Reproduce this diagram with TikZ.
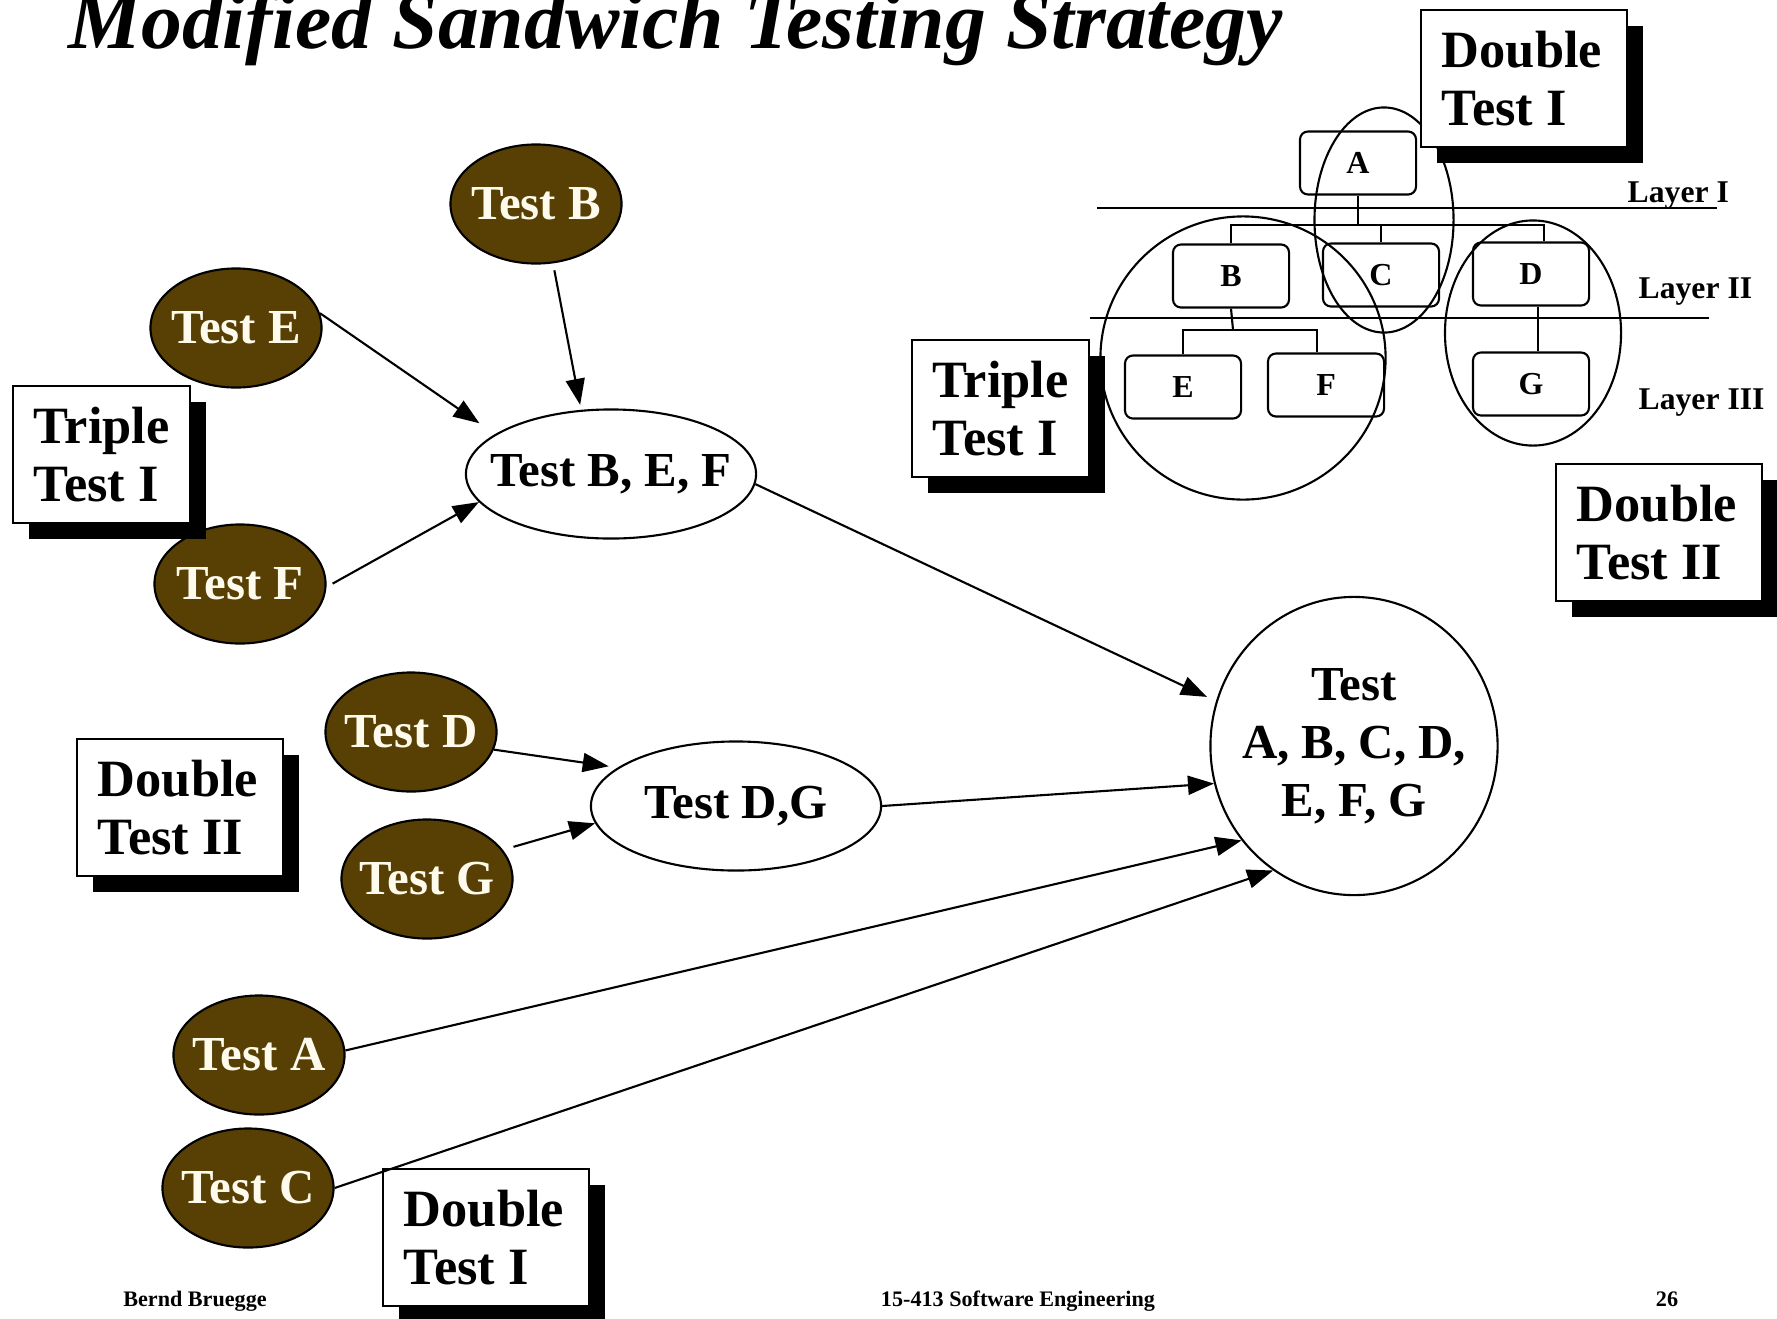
\documentclass[tikz,border=0pt]{standalone}
\usepackage{fontspec}
\setmainfont{Liberation Serif}
\usepackage{xcolor}
\usetikzlibrary{shapes.geometric, arrows.meta, shadows, calc}

\definecolor{testbrown}{RGB}{88,64,5}
\definecolor{testcream}{RGB}{255,251,236}

\begin{document}
\begin{tikzpicture}[
    x=0.01cm, y=-0.01cm,
    big/.style={font=\fontsize{13.9pt}{16.5pt}\selectfont\bfseries},
    unit/.style={ellipse, draw, line width=0.6pt, fill=testbrown, text=testcream, minimum width=1.71cm, minimum height=1.19cm, inner sep=0pt, inner xsep=-0.3cm, big},
    tst/.style={ellipse, draw, line width=0.6pt, fill=white, minimum width=2.9cm, minimum height=1.29cm, inner sep=0pt, inner xsep=-0.3cm, big},
    lbl/.style={draw, line width=0.5pt, fill=white, anchor=north west, align=flush left, inner xsep=0.21cm, text width=#1, minimum height=1.37cm,
        font=\fontsize{14.9pt}{16.4pt}\selectfont\bfseries,
        drop shadow={shadow xshift=0.16cm, shadow yshift=-0.16cm, fill=black, opacity=1}},
    mod/.style={draw, rounded corners=0.08cm, line width=0.6pt, minimum width=1.16cm, minimum height=0.63cm, font=\fontsize{9.1pt}{11pt}\selectfont\bfseries},
    grp/.style={ellipse, draw, line width=0.6pt, inner sep=0pt},
    tree/.style={line width=0.6pt},
    layer/.style={anchor=base west, inner sep=0pt, font=\fontsize{9pt}{11pt}\selectfont\bfseries},
    foot/.style={anchor=base, inner sep=0pt, font=\fontsize{6.3pt}{7.5pt}\selectfont\bfseries},
    msg/.style={-{Triangle[length=0.26cm, width=0.19cm]}, line width=0.6pt}
]
\useasboundingbox (0,0) rectangle (1777,1318);

\node[anchor=base west, inner sep=0pt, font=\fontsize{23.2pt}{27pt}\selectfont\bfseries\itshape] (title) at (68,48) {Modified Sandwich Testing Strategy};

% layered system, top right
\node[grp, minimum width=1.39cm, minimum height=2.25cm] (gAC) at (1384,220) {};
\node[grp, minimum width=2.85cm, minimum height=2.83cm] (gBEF) at (1243,358) {};
\node[grp, minimum width=1.76cm, minimum height=2.25cm] (gDG) at (1533,333) {};

\foreach \n/\x/\y in {A/1358/163, B/1231/276, C/1381/275, D/1531/274, E/1183/387, F/1326/385, G/1531/384}
  \node[mod] (m\n) at (\x,\y) {\n};

\coordinate (busA) at (1358,225);
\coordinate (busB) at (1233,330);
\draw[tree] (mA.south) -- (busA);
\draw[tree] (mB.north) |- (busA) -| ([xshift=0.13cm]mD.north);
\draw[tree] (mC.north) -- (mC.north |- busA);
\draw[tree] (mB.south) -- (busB);
\draw[tree] (mE.north) |- (busB) -| ([xshift=-0.09cm]mF.north);
\draw[tree] ([xshift=0.07cm]mD.south) -- ([xshift=0.07cm]mG.north);

\draw[tree] (1097,208) -- (1717,208);
\draw[tree] (1090,318) -- (1709,318);
\node[layer] (lay1) at (1627,202) {Layer I};
\node[layer] (lay2) at (1638,298) {Layer II};
\node[layer] (lay3) at (1638,409) {Layer III};

% tests
\foreach \n/\x/\y in {B/536/204, E/236/328, F/240/584, D/411/732, G/427/879, A/259/1055, C/248/1188}
  \node[unit] (t\n) at (\x,\y) {Test \n};

\node[tst] (bef) at (611,474) {Test B, E, F};
\node[tst] (dg) at (736,806) {Test D,G};
\node[tst, minimum width=2.87cm, minimum height=2.98cm, align=center] (all) at (1354,746) {Test\\A, B, C, D,\\E, F, G};

% labels
\node[lbl=1.35cm] (trip1) at (12,385) {Triple\\Test I};
\node[lbl=1.64cm] (dbl2) at (76,738) {Double\\Test II};
\node[lbl=1.64cm] (dbl1) at (382,1168) {Double\\Test I};
\node[lbl=1.35cm] (trip1r) at (911,339) {Triple\\Test I};
\node[lbl=1.64cm] (dbl1r) at (1420,9) {Double\\Test I};
\node[lbl=1.64cm] (dbl2r) at (1555,463) {Double\\Test II};

\draw[msg, shorten >=0.19cm] (tE.10) -- (bef.161);
\draw[msg, shorten <=0.07cm, shorten >=0.05cm] (tB.286) -- (bef.115);
\draw[msg, shorten <=0.07cm] (tF.358) -- (bef.192);
\draw[msg, shorten >=0.1cm] (bef.356) -- (all.162);
\draw[msg, shorten >=0.09cm] (tD.348) -- (dg.162);
\draw[msg, shorten <=0.11cm] (tG.21) -- (dg.187);
\draw[msg] (dg.east) -- (all.195);
\draw[msg] (tA.3) -- (all.220);
\draw[msg] (tC.east) -- (all.237);

\node[foot] (auth) at (195,1306) {Bernd Bruegge};
\node[foot] (course) at (1018,1306) {15-413 Software Engineering};
\node[foot] (page) at (1667,1306) {26};
\end{tikzpicture}
\end{document}
